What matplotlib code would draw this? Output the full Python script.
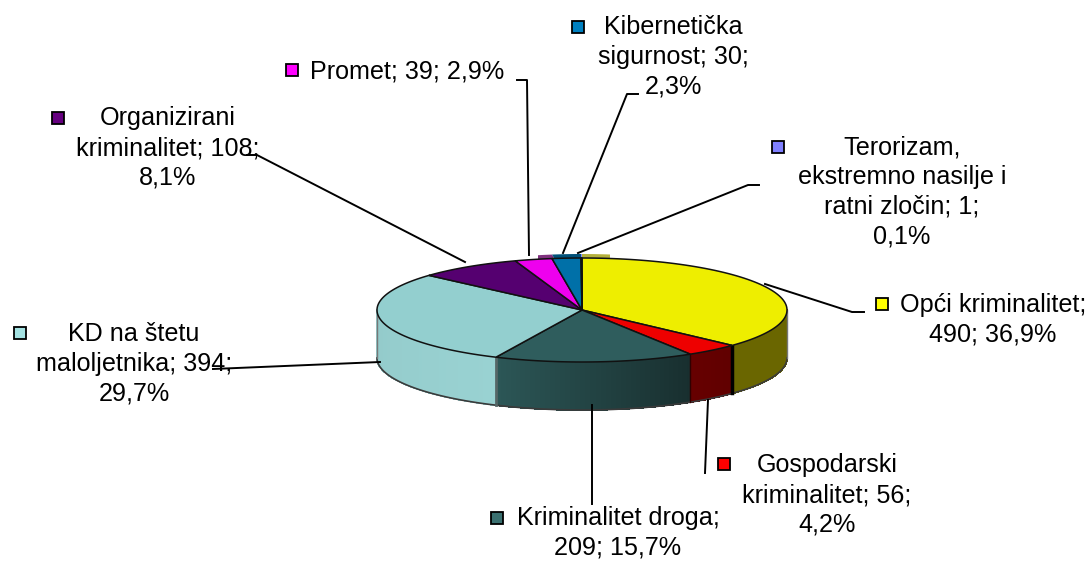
import numpy as np
import matplotlib
matplotlib.use("Agg")
import matplotlib.pyplot as plt
from matplotlib.patches import Rectangle

plt.rcParams['font.family'] = ['Liberation Sans', 'DejaVu Sans']

values = [490, 56, 209, 394, 108, 39, 30, 1]
names = ['Opći kriminalitet;\n490; 36,9%',
         'Gospodarski\nkriminalitet; 56;\n4,2%',
         'Kriminalitet droga;\n209; 15,7%',
         'KD na štetu\nmaloljetnika; 394;\n29,7%',
         'Organizirani\nkriminalitet; 108;\n8,1%',
         'Promet; 39; 2,9%',
         'Kibernetička\nsigurnost; 30;\n2,3%',
         'Terorizam,\nekstremno nasilje i\nratni zločin; 1;\n0,1%']
top_colors = ['#eeee00', '#ee0000', '#2f5d5d', '#93cfcf', '#550070', '#ee00ee', '#0070a8', '#b0b0c8']
key_colors = ['#ffff00', '#ff0000', '#3a7070', '#a4e2e2', '#660080', '#ff00ff', '#0080c0', '#8080ff']
strip_colors = ['#b4b03c', '#ee0000', '#2f5d5d', '#93cfcf', '#550070', '#80307f', '#005078', '#8080ff']
wall_left = ['#6a6600', '#660000', '#2c5656', '#93caca', '#330044', '#880088', '#004466', '#444488']
wall_right = ['#6a6600', '#600000', '#182e2e', '#99d2d2', '#330044', '#880088', '#004466', '#444488']

# pixel layout of the drawing
cx, cy, rx, ry, depth = 582, 310, 205, 52, 48

label_pos = [(993, 320), (827, 495), (618, 533), (134, 364), (168, 148), (407, 71), (673, 57), (902, 192)]
key_pos = [(882, 304), (724, 464), (497, 518), (20, 333), (58, 118), (292, 70), (578, 27), (778, 147)]
leaders = [[(765, 284), (852, 312), (864, 312)],
           [(708, 400), (705, 473)],
           [(592, 405), (592, 504)],
           [(380, 362), (213, 369)],
           [(465, 262), (257, 155), (247, 155)],
           [(529, 255), (527, 80), (517, 80)],
           [(563, 253), (627, 94), (638, 94)],
           [(578, 253), (748, 185), (759, 185)]]

fig = plt.figure(figsize=(10.88, 5.61), dpi=100)
ax = fig.add_axes([0, 0, 1, 1])
ax.set_xlim(0, 1088)
ax.set_ylim(561, 0)
ax.axis('off')

cum = np.concatenate([[0], np.cumsum(values)]) / sum(values) * 2 * np.pi


def rim(t, dy=0):
    return cx + rx * np.sin(t), cy - ry * np.cos(t) + dy


def mix(c1, c2, f):
    a = np.array(matplotlib.colors.to_rgb(c1))
    b = np.array(matplotlib.colors.to_rgb(c2))
    return a + (b - a) * f


# thin strip showing behind the back rim
strip = Rectangle((538, 250), 72, 12, transform=ax.transData)
for i, c in enumerate(strip_colors):
    t = np.linspace(cum[i], cum[i + 1], 40)
    x, y = rim(t, -4)
    p = ax.fill(np.r_[cx, x], np.r_[cy - 4, y], color=c, lw=0, zorder=1)[0]
    p.set_clip_path(strip)

# side wall, front half only
for i in range(len(values)):
    a, b = max(cum[i], np.pi / 2), min(cum[i + 1], 1.5 * np.pi)
    if a >= b:
        continue
    edges = np.linspace(a, b, int((b - a) * 40) + 2)
    for j in range(len(edges) - 1):
        t = np.linspace(edges[j], edges[j + 1], 3)
        x, y = rim(t)
        f = (j + 0.5) / (len(edges) - 1)
        ax.fill(np.r_[x, x[::-1]], np.r_[y, y[::-1] + depth],
                color=mix(wall_right[i], wall_left[i], f), lw=0.6, antialiased=False, zorder=2)
    x, y = rim(np.linspace(a, b, 60), depth)
    ax.plot(x, y, color='#3a3a3a', lw=1.2, zorder=3)

# outer silhouette edge on both sides
for t in [np.pi / 2, 1.5 * np.pi]:
    x, y = rim(t)
    ax.plot([x, x], [y, y + depth], color='#777777', lw=1, zorder=3)

# seams between walls
x, y = rim(cum[1])
ax.plot([x, x], [y, y + depth], color='black', lw=2.5, zorder=3)
x, y = rim(cum[2])
ax.plot([x, x], [y, y + depth], color='#300000', lw=1, zorder=3)
x, y = rim(cum[3])
ax.plot([x, x], [y, y + depth], color='#556666', lw=2, zorder=3)

# top face
for i, c in enumerate(top_colors):
    t = np.linspace(cum[i], cum[i + 1], 80)
    x, y = rim(t)
    ax.fill(np.r_[cx, x], np.r_[cy, y], facecolor=c, edgecolor='#111111', lw=1.1, zorder=4)

# leader lines
for pts in leaders:
    xs, ys = zip(*pts)
    ax.plot(xs, ys, color='black', lw=1.4, zorder=5)

# labels and their keys
for name, pos, key, c in zip(names, label_pos, key_pos, key_colors):
    ax.text(pos[0], pos[1], name, ha='center', va='center', fontsize=18.1,
            linespacing=1.29, color='black', zorder=6)
    ax.add_patch(Rectangle((key[0] - 6, key[1] - 6), 12, 12, facecolor=c,
                           edgecolor='black', lw=1.3, zorder=6))

fig.savefig('out.png', dpi=100)
